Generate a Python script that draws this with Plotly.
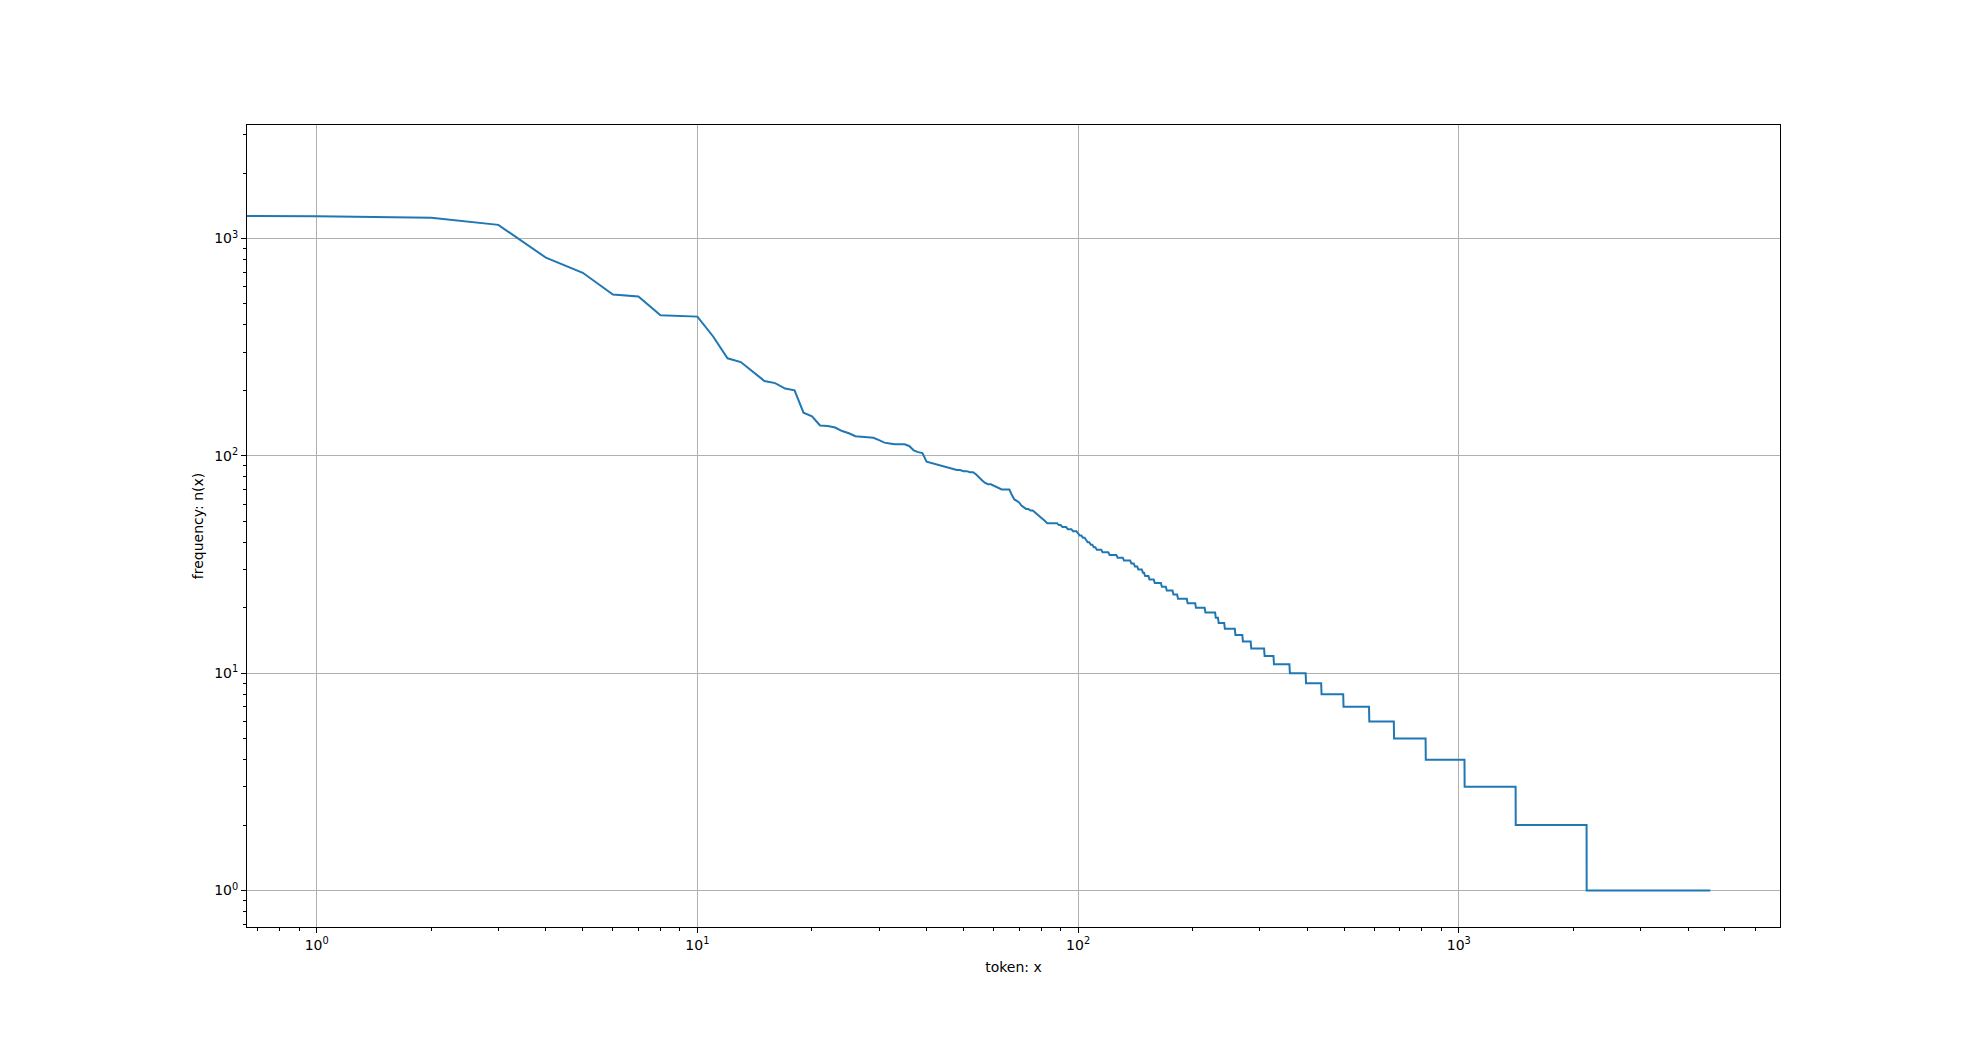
import numpy as np
import plotly.graph_objects as go

# Token frequencies (sorted, rank 0 = most frequent)
head_freqs = [2261, 1267, 1245, 1155, 816, 695, 552, 541, 443, 440,
              437, 354, 281, 270, 243, 221, 216, 204, 200, 158,
              152, 138, 137, 135, 130, 127, 123, 122, 122, 121,
              118, 115, 114, 113, 113, 113, 111, 106, 104, 103,
              94, 93, 92, 91, 90, 89, 88, 87, 86, 86,
              85, 85, 84, 84, 82, 79, 77, 75, 74, 74,
              73, 72, 71, 70, 70, 70, 70, 66, 63, 62,
              61, 59, 58, 57, 57, 56, 56, 55, 54, 53,
              52, 51, 50, 49, 49, 49, 49, 49, 49]

# Long tail: frequency level and how many tokens share it
tail_levels = [48, 47, 46, 45, 44, 43, 42, 41, 40, 39, 38, 37, 36, 35, 34, 33,
               32, 31, 30, 29, 28, 27, 26, 25, 24, 23, 22, 21, 20, 19, 18, 17,
               16, 15, 14, 13, 12, 11, 10, 9, 8, 7, 6, 5, 4, 3, 2, 1]
tail_counts = [2, 3, 3, 3, 1, 2, 2, 1, 2, 2, 2, 4, 5, 6, 5, 6,
               3, 3, 4, 2, 4, 5, 7, 5, 7, 5, 11, 10, 12, 14, 4, 9,
               16, 12, 14, 24, 18, 33, 37, 39, 62, 84, 94, 143, 217, 375, 756, 2412]

x_tick_vals = [1, 10, 100, 1000]
x_tick_text = ["10<sup>0</sup>", "10<sup>1</sup>", "10<sup>2</sup>", "10<sup>3</sup>"]
y_tick_vals = [1, 10, 100, 1000]
y_tick_text = ["10<sup>0</sup>", "10<sup>1</sup>", "10<sup>2</sup>", "10<sup>3</sup>"]

freqs = np.concatenate([np.array(head_freqs, dtype=float),
                        np.repeat(np.array(tail_levels, dtype=float), tail_counts)])
x = np.arange(len(freqs), dtype=float)
# log axis: non-positive x clipped to a tiny value (as matplotlib does)
x_plot = np.where(x > 0, x, 1e-300)

n = len(freqs)
lx_max = np.log10(n - 1)
x_range = [-0.05 * lx_max, 1.05 * lx_max]
ly_min, ly_max = np.log10(min(freqs)), np.log10(max(freqs))
dy = ly_max - ly_min
y_range = [ly_min - 0.05 * dy, ly_max + 0.05 * dy]

minor_vals = [m * 10.0 ** e for e in range(-1, 4) for m in range(2, 10)]

fig = go.Figure()
fig.add_trace(go.Scatter(x=x_plot, y=freqs, mode="lines",
                         line=dict(color="#1f77b4", width=2),
                         showlegend=False, hoverinfo="skip"))

axis_common = dict(
    type="log",
    showgrid=True, gridcolor="#b0b0b0", gridwidth=1,
    showline=True, linecolor="black", linewidth=1, mirror=True,
    zeroline=False,
    ticks="outside", ticklen=5, tickwidth=1, tickcolor="black",
    tickfont=dict(family="DejaVu Sans", size=14, color="black"),
    minor=dict(tickmode="array", tickvals=minor_vals, ticks="outside",
               ticklen=3, tickwidth=1, tickcolor="black", showgrid=False),
)

fig.update_layout(
    width=1978, height=1042,
    margin=dict(l=239, r=206, t=117, b=123),
    paper_bgcolor="white", plot_bgcolor="white",
    font=dict(family="DejaVu Sans", size=13, color="black"),
    xaxis=dict(axis_common, range=x_range, tickmode="array",
               tickvals=x_tick_vals, ticktext=x_tick_text,
               title=dict(text="token: x", standoff=10,
                          font=dict(family="DejaVu Sans", size=14))),
    yaxis=dict(axis_common, range=y_range, tickmode="array",
               tickvals=y_tick_vals, ticktext=y_tick_text,
               title=dict(text="frequency: n(x)", standoff=7,
                          font=dict(family="DejaVu Sans", size=14))),
)

fig.write_html("out.html")
